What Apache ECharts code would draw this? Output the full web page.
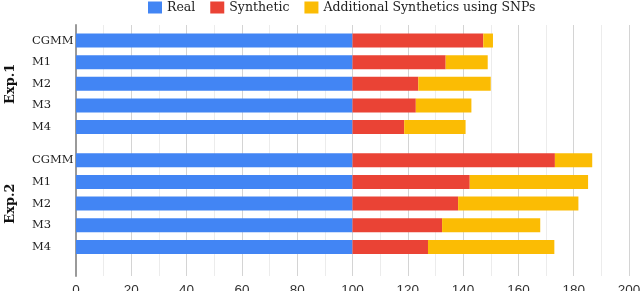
<!DOCTYPE html>
<html><head><meta charset="utf-8">
<script src="https://cdn.jsdelivr.net/npm/echarts@6/dist/echarts.min.js"></script>
<style>html,body{margin:0;padding:0;background:#fff}#c{width:640px;height:291px}</style>
</head><body><div id="c"></div>
<script>
var categories = ['CGMM', 'M1', 'M2', 'M3', 'M4'];
var groups = ['Exp.1', 'Exp.2'];
var seriesNames = ['Real', 'Synthetic', 'Additional Synthetics using SNPs'];
var exp1Real = [100, 100, 100, 100, 100];
var exp1Synthetic = [47.3, 33.7, 23.8, 22.9, 18.7];
var exp1Additional = [3.5, 15.2, 26.2, 20.1, 22.2];
var exp2Real = [100, 100, 100, 100, 100];
var exp2Synthetic = [73.2, 42.4, 38.2, 32.4, 27.3];
var exp2Additional = [13.5, 42.8, 43.5, 35.5, 45.7];
var xMin = 0, xMax = 200, xStep = 20;

var colors = ['#4285F4', '#EA4335', '#FBBC04'];
var serif = '"DejaVu Serif", serif';
var groupData = [[exp1Real, exp1Synthetic, exp1Additional], [exp2Real, exp2Synthetic, exp2Additional]];

var grids = [
  {left: 76, right: 11, top: 25, bottom: 15, containLabel: false, outerBoundsMode: 'none'},
  {left: 76, right: 11, top: 29.7, height: 108.2, containLabel: false, outerBoundsMode: 'none'},
  {left: 76, right: 11, top: 149.5, height: 108.2, containLabel: false, outerBoundsMode: 'none'}
];
var xAxes = [{
  gridIndex: 0, type: 'value', min: xMin, max: xMax, interval: xStep,
  axisLine: {show: false}, axisTick: {show: false},
  axisLabel: {color: '#333', fontFamily: '"Liberation Sans", Arial, sans-serif', fontSize: 13.5, margin: 7},
  splitLine: {show: true, lineStyle: {color: '#d4d4d4', width: 1}},
  minorTick: {show: false, splitNumber: 2},
  minorSplitLine: {show: true, lineStyle: {color: '#ececec', width: 1}}
}];
var yAxes = [{
  gridIndex: 0, type: 'category', data: [''],
  axisLine: {show: true, lineStyle: {color: '#9a9a9a', width: 2}},
  axisTick: {show: false}, axisLabel: {show: false}, splitLine: {show: false}
}];
var series = [];
for (var g = 0; g < 2; g++) {
  xAxes.push({gridIndex: g + 1, type: 'value', min: xMin, max: xMax, interval: xStep, show: false});
  yAxes.push({
    gridIndex: g + 1, type: 'category', data: categories, inverse: true,
    axisLine: {show: false}, axisTick: {show: false},
    axisLabel: {color: '#222', fontFamily: serif, fontSize: 11.5, margin: 44, align: 'left'},
    name: groups[g], nameLocation: 'middle', nameRotate: 90, nameGap: 59,
    nameTextStyle: {fontFamily: serif, fontWeight: 'bold', fontSize: 13, color: '#111'}
  });
  for (var s = 0; s < 3; s++) {
    series.push({
      name: seriesNames[s], type: 'bar', stack: 'g' + g,
      xAxisIndex: g + 1, yAxisIndex: g + 1,
      barWidth: 14, itemStyle: {color: colors[s]},
      data: groupData[g][s], silent: true
    });
  }
}

var chart = echarts.init(document.getElementById('c'), null, {renderer: 'canvas'});
chart.setOption({
  animation: false,
  color: colors,
  legend: {
    data: seriesNames, top: 1, left: 148, padding: 0, itemWidth: 14, itemHeight: 12, itemGap: 15,
    icon: 'rect',
    textStyle: {fontFamily: serif, fontSize: 12.5, color: '#222'}
  },
  grid: grids, xAxis: xAxes, yAxis: yAxes, series: series
});
</script></body></html>
